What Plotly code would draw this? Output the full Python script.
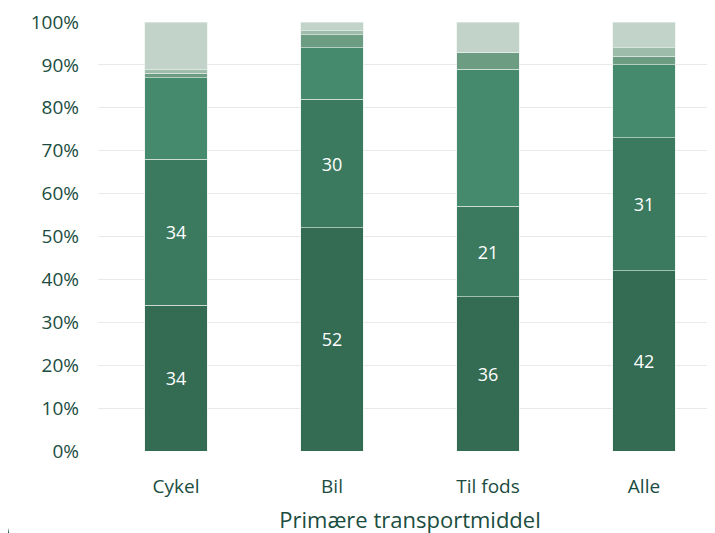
import plotly.graph_objects as go

kategorier = ["Cykel", "Bil", "Til fods", "Alle"]

# andele i procent, nederste segment først
seg1 = [34, 52, 36, 42]
seg2 = [34, 30, 21, 31]
seg3 = [19, 12, 32, 17]
seg4 = [1, 3, 4, 2]
seg5 = [1, 1, 0, 2]
seg6 = [11, 2, 7, 6]

farver = ["#336b53", "#3b7a5f", "#458a6d", "#6c9d83", "#9dbca9", "#c2d3ca"]
tekstfarve = "#1a4d40"
skrift = "Open Sans"

fig = go.Figure()

serier = [seg1, seg2, seg3, seg4, seg5, seg6]
for i, vals in enumerate(serier):
    labels = [str(v) for v in vals] if i < 2 else [""] * len(vals)
    fig.add_trace(go.Bar(
        x=kategorier, y=vals,
        marker=dict(color=farver[i], line=dict(color="#e8efeb", width=0.6)),
        text=labels, textposition="inside", insidetextanchor="middle",
        textangle=0, textfont=dict(color="white", size=18, family=skrift),
        width=0.4, hoverinfo="skip", showlegend=False,
    ))

# logo-hjørne nederst til venstre
fig.add_shape(type="circle", xref="paper", yref="paper",
              x0=-0.3654, x1=-0.141, y0=-0.3805, y1=-0.0557,
              fillcolor="#0b4d3f", line=dict(width=0), layer="above")

fig.update_layout(
    barmode="stack",
    width=715, height=533,
    margin=dict(l=90, r=1, t=12, b=90),
    plot_bgcolor="white", paper_bgcolor="white",
    font=dict(family=skrift, color=tekstfarve, size=19),
    uniformtext=dict(minsize=8, mode="show"),
    xaxis=dict(range=[-0.5, 3.5], showgrid=False, ticks="", showline=False,
               tickfont=dict(size=19), ticklabelstandoff=22,
               title=dict(text="Primære transportmiddel", font=dict(size=22), standoff=14)),
    yaxis=dict(range=[0, 100], dtick=10, ticksuffix="%", showgrid=True, gridcolor="#e9e9e9",
               gridwidth=1, zeroline=False, showline=False, tickfont=dict(size=19),
               ticklabelstandoff=18, ticklabeloverflow="allow"),
)

fig.write_html("out.html")
